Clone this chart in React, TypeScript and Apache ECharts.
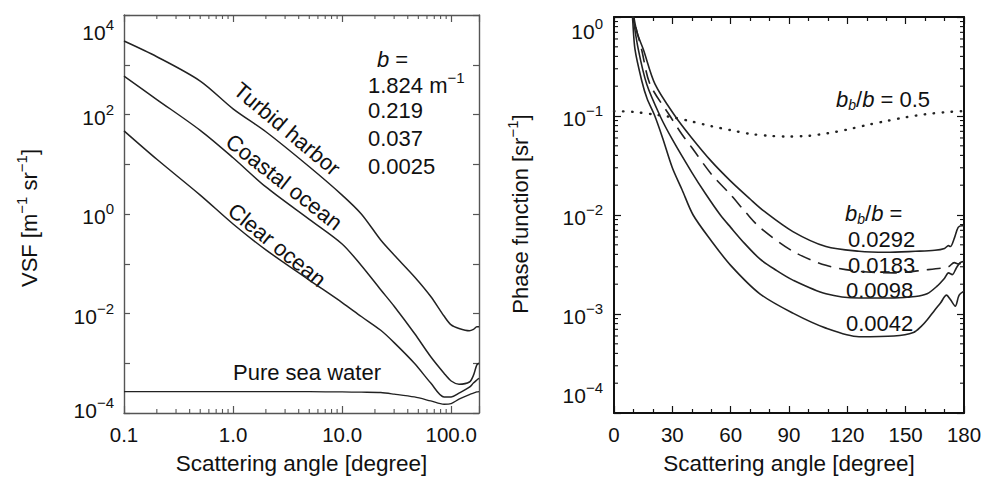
import React, { useEffect, useRef } from 'react';
import * as echarts from 'echarts';

const FONT = "'Liberation Sans', Arial, Helvetica, sans-serif";
const TXT = '#111';
const LINE = '#222';
const LFRAME = '#555';
const RFRAME = '#111';

// ---- Left panel: VSF (Petzold) ----
const vsfAngle = [0.1, 0.2, 0.5, 1, 2, 5, 10, 15, 22.6, 30, 46, 65, 86, 100, 118, 147, 160, 172, 180];
const turbidHarbor = [3000, 1450, 470, 130, 45, 8.9, 2.4, 1.0, 0.3, 0.15, 0.055, 0.022, 0.0089, 0.0059, 0.005, 0.0045, 0.0048, 0.0054, 0.0054];
const coastalOcean = [590, 200, 48, 13.5, 3.5, 0.78, 0.25, 0.092, 0.03, 0.014, 0.004, 0.00135, 0.00063, 0.00044, 0.00038, 0.00042, 0.00057, 0.00093, 0.001];
const clearOcean = [47, 12.6, 2.4, 0.63, 0.19, 0.047, 0.0166, 0.0087, 0.0046, 0.0026, 0.001, 0.0004, 0.00021, 0.00021, 0.00025, 0.00033, 0.0004, 0.00046, 0.0005];
const pureSeaWater = [2.7e-4, 2.7e-4, 2.7e-4, 2.7e-4, 2.7e-4, 2.68e-4, 2.65e-4, 2.62e-4, 2.58e-4, 2.4e-4, 2.1e-4, 1.75e-4, 1.5e-4, 1.55e-4, 1.9e-4, 2.35e-4, 2.5e-4, 2.65e-4, 2.7e-4];
const bValues = ['1.824', '0.219', '0.037', '0.0025'];
const vsfMinorX = [0.2, 0.3, 0.4, 0.5, 0.6, 0.7, 0.8, 0.9, 2, 3, 4, 5, 6, 7, 8, 9, 20, 30, 40, 50, 60, 70, 80, 90];

// ---- Right panel: phase functions ----
const ang0292 = [9.6, 10.2, 12, 15.1, 21.1, 31.4, 40, 50, 60, 70, 77, 92, 109, 126, 140, 155, 165, 170, 172, 173, 175, 177, 179, 180];
const pf0292 = [1.3, 1, 0.68, 0.47, 0.21, 0.1, 0.06, 0.035, 0.022, 0.0145, 0.011, 0.0068, 0.0048, 0.0043, 0.0042, 0.0043, 0.0044, 0.0046, 0.0049, 0.0048, 0.0058, 0.0075, 0.0078, 0.0078];
const ang0183 = [9.5, 10, 14.2, 18.5, 28.8, 35, 40, 50, 60, 68, 75, 92, 109, 126, 144, 161, 168, 172, 175, 177, 180];
const pf0183 = [1.3, 1, 0.47, 0.21, 0.1, 0.065, 0.048, 0.026, 0.016, 0.0105, 0.0075, 0.0043, 0.0031, 0.0027, 0.0026, 0.0028, 0.0029, 0.003, 0.0033, 0.0032, 0.0033];
const ang0098 = [9.3, 9.8, 12.5, 16.8, 23.7, 30, 40, 47, 54.7, 60, 67, 75, 83, 92, 109, 126, 144, 155, 161, 166, 170, 172, 174, 176, 178, 180];
const pf0098 = [1.3, 1, 0.47, 0.21, 0.1, 0.058, 0.027, 0.0165, 0.01, 0.0075, 0.0052, 0.0036, 0.0028, 0.0022, 0.0016, 0.00145, 0.00145, 0.0015, 0.0016, 0.0019, 0.0023, 0.0026, 0.0025, 0.0029, 0.0033, 0.0034];
const ang0042 = [9.0, 9.5, 10.8, 14.2, 17, 21, 25, 30, 35, 40.7, 50, 60, 75, 92, 109, 126, 144, 154, 158, 161, 165, 168, 171, 173, 175.5, 177.5, 180];
const pf0042 = [1.3, 1, 0.47, 0.23, 0.15, 0.1, 0.06, 0.03, 0.018, 0.01, 0.0055, 0.0031, 0.0016, 0.00102, 0.00072, 0.00059, 0.0006, 0.00065, 0.00075, 0.00087, 0.0011, 0.0013, 0.00155, 0.0014, 0.0012, 0.00155, 0.0017];
const angHalf = [0, 10, 20, 30, 40, 50, 60, 70, 80, 90, 100, 110, 120, 130, 140, 150, 160, 170, 180];
const pfHalf = [0.112, 0.11, 0.104, 0.097, 0.088, 0.079, 0.072, 0.066, 0.063, 0.062, 0.063, 0.067, 0.073, 0.081, 0.089, 0.097, 0.104, 0.109, 0.112];
const ratioLabels = ['0.0292', '0.0183', '0.0098', '0.0042'];
const pfMinorY = [2e-4, 3e-4, 4e-4, 5e-4, 6e-4, 7e-4, 8e-4, 9e-4, 2e-3, 3e-3, 4e-3, 5e-3, 6e-3, 7e-3, 8e-3, 9e-3,
  0.02, 0.03, 0.04, 0.05, 0.06, 0.07, 0.08, 0.09, 0.2, 0.3, 0.4, 0.5, 0.6, 0.7, 0.8, 0.9];

const zip = (a: number[], b: number[]) => a.map((v, i) => [v, b[i]]);

const supRich = (fs: number, sfs: number) => ({
  m: { fontSize: fs, fontFamily: FONT, color: TXT, verticalAlign: 'bottom' },
  s: { fontSize: sfs, fontFamily: FONT, color: TXT, verticalAlign: 'top', padding: [0, 0, 11, 0] },
});

const tickRich = (shiftDown: number, shiftUp: number) => {
  const T = shiftDown * 2;
  const U = shiftUp * 2;
  return {
    m: { fontSize: 21, fontFamily: FONT, color: TXT, verticalAlign: 'bottom' },
    s: { fontSize: 15, fontFamily: FONT, color: TXT, verticalAlign: 'top', padding: [0, 0, 11, 0] },
    mt: { fontSize: 21, fontFamily: FONT, color: TXT, verticalAlign: 'bottom', padding: [T, 0, 0, 0] },
    st: { fontSize: 15, fontFamily: FONT, color: TXT, verticalAlign: 'top', padding: [T, 0, 11, 0] },
    mb: { fontSize: 21, fontFamily: FONT, color: TXT, verticalAlign: 'bottom', padding: [0, 0, U, 0] },
    sb: { fontSize: 15, fontFamily: FONT, color: TXT, verticalAlign: 'top', padding: [0, 0, 11 + U, 0] },
  };
};

const expOf = (v: number) => {
  const l = Math.log10(v);
  const e = Math.round(l);
  return Math.abs(l - e) < 0.01 ? e : null;
};
const expText = (e: number) => (e < 0 ? '\u2212' + -e : String(e));

const makeYFormatter = (topE: number, botE: number, evenOnly: boolean) => (v: number) => {
  const e = expOf(v);
  if (e === null) return '';
  if (evenOnly && e % 2 !== 0) return '';
  if (e === topE) return `{mt|10}{st|${expText(e)}}`;
  if (e === botE) return `{mb|10}{sb|${expText(e)}}`;
  return `{m|10}{s|${expText(e)}}`;
};

const fmtLogX = (v: number) => {
  const e = expOf(v);
  if (e === null) return '';
  return e === -1 ? '0.1' : v.toFixed(1);
};

const tickSeries = (xi: number, yi: number, dir: 'x' | 'y', lo: number, hi: number, vals: number[], len: number, color: string) => ({
  type: 'custom',
  xAxisIndex: xi,
  yAxisIndex: yi,
  silent: true,
  clip: false,
  data: vals.map((v) => (dir === 'x' ? [v, 1] : [90, v])),
  renderItem: (params: any, api: any) => {
    const st = { stroke: color, lineWidth: 1.1 };
    if (dir === 'x') {
      const v = api.value(0);
      const a = api.coord([v, lo]);
      const b = api.coord([v, hi]);
      return {
        type: 'group',
        children: [
          { type: 'line', shape: { x1: a[0], y1: a[1], x2: a[0], y2: a[1] - len }, style: st },
          { type: 'line', shape: { x1: b[0], y1: b[1], x2: b[0], y2: b[1] + len }, style: st },
        ],
      };
    }
    const v = api.value(1);
    const a = api.coord([lo, v]);
    const b = api.coord([hi, v]);
    return {
      type: 'group',
      children: [
        { type: 'line', shape: { x1: a[0], y1: a[1], x2: a[0] + len, y2: a[1] }, style: st },
        { type: 'line', shape: { x1: b[0], y1: b[1], x2: b[0] - len, y2: b[1] }, style: st },
      ],
    };
  },
});

const lineSeries = (xi: number, yi: number, data: number[][], extra: any = {}) => ({
  type: 'line',
  xAxisIndex: xi,
  yAxisIndex: yi,
  data,
  symbol: 'none',
  smooth: 0.3,
  lineStyle: { color: LINE, width: 1.5, ...(extra.lineStyle || {}) },
  silent: true,
});

const txt = (x: number, y: number, text: string, opts: any = {}) => ({
  type: 'text',
  x,
  y,
  rotation: opts.rotation || 0,
  silent: true,
  style: {
    text,
    fill: TXT,
    fontSize: opts.fontSize || 22,
    fontFamily: FONT,
    fontStyle: opts.fontStyle || 'normal',
    align: opts.align || 'left',
    verticalAlign: 'middle',
    rich: opts.rich,
  },
});

const italicRich = {
  i: { fontSize: 22, fontFamily: FONT, fontStyle: 'italic', color: TXT, verticalAlign: 'top' },
  n: { fontSize: 22, fontFamily: FONT, color: TXT, verticalAlign: 'top' },
  sub: { fontSize: 14, fontFamily: FONT, fontStyle: 'italic', color: TXT, verticalAlign: 'bottom', padding: [10, 0, 0, 0] },
};

export default function App() {
  const ref = useRef<HTMLDivElement>(null);
  useEffect(() => {
    if (!ref.current) return;
    const chart = echarts.init(ref.current, undefined, { renderer: 'svg' });
    const axisCommon = (color: string, width: number) => ({
      axisLine: { onZero: false, lineStyle: { color, width } },
      axisTick: { inside: true, length: 7, lineStyle: { color, width: 1.2 } },
      splitLine: { show: false },
    });
    const option: any = {
      animation: false,
      backgroundColor: '#fff',
      textStyle: { fontFamily: FONT },
      grid: [
        { left: 124, top: 15, width: 355, height: 398 },
        { left: 614, top: 17, width: 350, height: 396 },
      ],
      xAxis: [
        {
          gridIndex: 0, type: 'log', logBase: 10, min: 0.1, max: 180, position: 'bottom',
          ...axisCommon(LFRAME, 1.4),
          axisLabel: { fontSize: 20.5, color: TXT, margin: 11, formatter: fmtLogX, fontFamily: FONT },
          name: 'Scattering angle [degree]', nameLocation: 'middle', nameGap: 39,
          nameTextStyle: { fontSize: 22.5, color: TXT, fontFamily: FONT },
        },
        {
          gridIndex: 0, type: 'log', logBase: 10, min: 0.1, max: 180, position: 'top',
          ...axisCommon(LFRAME, 1.4),
          axisLabel: { show: false },
        },
        {
          gridIndex: 1, type: 'value', min: 0, max: 180, interval: 30, position: 'bottom',
          ...axisCommon(RFRAME, 2),
          minorTick: { show: true, splitNumber: 3, length: 4, lineStyle: { color: RFRAME, width: 1.2 } },
          axisLabel: { fontSize: 20.5, color: TXT, margin: 11, fontFamily: FONT },
          name: 'Scattering angle [degree]', nameLocation: 'middle', nameGap: 39,
          nameTextStyle: { fontSize: 22.5, color: TXT, fontFamily: FONT },
        },
        {
          gridIndex: 1, type: 'value', min: 0, max: 180, interval: 30, position: 'top',
          ...axisCommon(RFRAME, 2),
          minorTick: { show: true, splitNumber: 3, length: 4, lineStyle: { color: RFRAME, width: 1.2 } },
          axisLabel: { show: false },
        },
      ],
      yAxis: [
        {
          gridIndex: 0, type: 'log', logBase: 10, min: 1e-4, max: 1e4, position: 'left',
          ...axisCommon(LFRAME, 1.4),
          axisTick: { inside: true, length: 6, lineStyle: { color: LFRAME, width: 1.2 } },
          axisLabel: { margin: 10, formatter: makeYFormatter(4, -4, true), rich: tickRich(14.5, 5) },
        },
        {
          gridIndex: 0, type: 'log', logBase: 10, min: 1e-4, max: 1e4, position: 'right',
          ...axisCommon(LFRAME, 1.4),
          axisTick: { inside: true, length: 6, lineStyle: { color: LFRAME, width: 1.2 } },
          axisLabel: { show: false },
        },
        {
          gridIndex: 1, type: 'log', logBase: 10, min: 1e-4, max: 1, position: 'left',
          ...axisCommon(RFRAME, 2),
          axisLabel: { margin: 11, formatter: makeYFormatter(0, -4, false), rich: tickRich(12, 20) },
        },
        {
          gridIndex: 1, type: 'log', logBase: 10, min: 1e-4, max: 1, position: 'right',
          ...axisCommon(RFRAME, 2),
          axisLabel: { show: false },
        },
      ],
      series: [
        lineSeries(0, 0, zip(vsfAngle, turbidHarbor)),
        lineSeries(0, 0, zip(vsfAngle, coastalOcean)),
        lineSeries(0, 0, zip(vsfAngle, clearOcean)),
        lineSeries(0, 0, zip(vsfAngle, pureSeaWater), { lineStyle: { width: 1.3 } }),
        tickSeries(0, 0, 'x', 1e-4, 1e4, vsfMinorX, 4, LFRAME),
        lineSeries(2, 2, zip(ang0292, pf0292), { lineStyle: { width: 1.6 } }),
        lineSeries(2, 2, zip(ang0183, pf0183), { lineStyle: { width: 1.6, type: [14, 8] } }),
        lineSeries(2, 2, zip(ang0098, pf0098), { lineStyle: { width: 1.6 } }),
        lineSeries(2, 2, zip(ang0042, pf0042), { lineStyle: { width: 1.6 } }),
        lineSeries(2, 2, zip(angHalf, pfHalf), { lineStyle: { width: 2.4, type: [0.5, 8.5], cap: 'round' } }),
        tickSeries(2, 2, 'y', 0, 180, pfMinorY, 4, RFRAME),
      ],
      graphic: [
        txt(27, 218, '{n|VSF [m}{s|\u22121}{n| sr}{s|\u22121}{n|]}', {
          rotation: Math.PI / 2, align: 'center',
          rich: { n: { fontSize: 22, fontFamily: FONT, color: TXT, verticalAlign: 'bottom' }, s: supRich(22, 15).s },
        }),
        txt(518, 214, '{n|Phase function [sr}{s|\u22121}{n|]}', {
          rotation: Math.PI / 2, align: 'center',
          rich: { n: { fontSize: 22, fontFamily: FONT, color: TXT, verticalAlign: 'bottom' }, s: supRich(22, 15).s },
        }),
        txt(287, 129, 'Turbid harbor', { align: 'center', rotation: (-40 * Math.PI) / 180 }),
        txt(284, 182, 'Coastal ocean', { align: 'center', rotation: (-38 * Math.PI) / 180 }),
        txt(277, 245, 'Clear ocean', { align: 'center', rotation: (-39 * Math.PI) / 180 }),
        txt(307, 372, 'Pure sea water', { align: 'center' }),
        txt(377, 59, '{i|b}{n| =}', { rich: italicRich }),
        txt(368, 83, `{m|${bValues[0]} m}{s|\u22121}`, { rich: supRich(22, 15) }),
        txt(368, 110, bValues[1]),
        txt(368, 138, bValues[2]),
        txt(368, 166, bValues[3]),
        txt(836, 100, '{i|b}{sub|b}{n|/}{i|b}{n| = 0.5}', { rich: italicRich }),
        txt(845, 214, '{i|b}{sub|b}{n|/}{i|b}{n| =}', { rich: italicRich }),
        txt(848, 239, ratioLabels[0]),
        txt(848, 265, ratioLabels[1]),
        txt(846, 290, ratioLabels[2]),
        txt(846, 323, ratioLabels[3]),
      ],
    };
    chart.setOption(option);
    return () => chart.dispose();
  }, []);
  return <div ref={ref} style={{ position: 'fixed', left: 0, top: 0, width: 986, height: 480 }} />;
}
